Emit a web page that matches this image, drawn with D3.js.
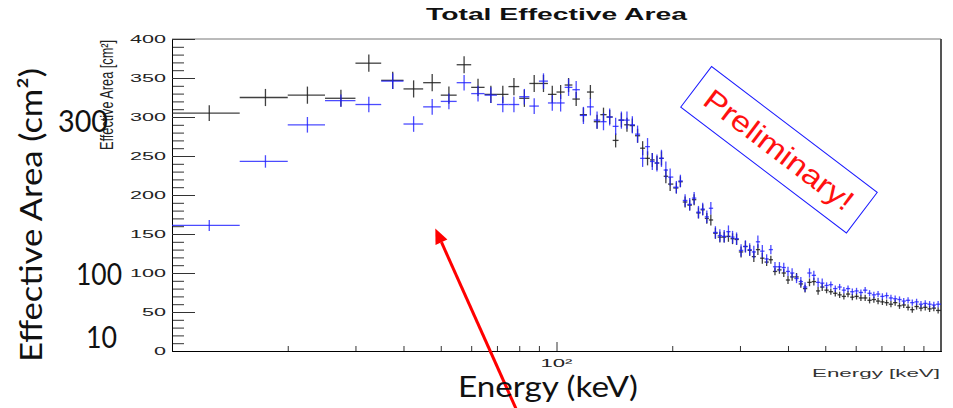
<!DOCTYPE html>
<html>
<head>
<meta charset="utf-8">
<script src="https://cdn.jsdelivr.net/npm/d3@7"></script>
<style>
  body { margin: 0; background: #fff; }
  svg { display: block; }
</style>
</head>
<body>
<svg id="chart" width="953" height="408"></svg>
<script>
'use strict';

// bin centres in keV (5 keV bins up to 200 keV, wider above)
var energy = [
  12.5, 17.5, 22.5, 27.5, 32.5, 37.5, 42.5, 47.5, 52.5, 57.5, 62.5, 67.5, 72.5, 77.5, 82.5, 87.5, 92.5, 97.5,
  102.5, 107.5, 112.5, 117.5, 122.5, 127.5, 132.5, 137.5, 142.5, 147.5, 152.5, 157.5, 162.5, 167.5, 172.5, 177.5, 182.5, 187.5, 192.5, 197.5,
  205, 210, 216, 222, 228, 234, 240, 246, 252, 259, 266, 273, 280, 287, 294, 302, 310, 318, 326, 334, 343,
  352, 361, 370, 380, 390, 400, 410, 421, 432, 443, 455, 467, 479, 491,
  504, 517, 531, 545, 559, 573, 588, 603, 619, 635, 652, 669, 686, 704, 722, 741, 760, 780, 800, 821, 842, 864, 887, 910, 934, 958, 983
];

var areaBlack = [
  305, 325, 328, 324, 369, 347, 336, 344, 328, 367, 338, 329, 329, 339, 324, 343, 343, 329,
  332, 341, 323, 303, 332, 294, 303, 300, 270, 296, 290, 289, 276, 260, 247, 245, 241, 247, 224, 214,
  209, 217, 191, 187, 194, 177, 181, 170, 168, 151, 146, 146, 147, 144, 143, 127, 134, 129, 121, 130, 119,
  114, 117, 102, 104, 100, 91, 95, 95, 86, 80, 88, 89, 77, 82,
  78, 76, 74, 72, 70, 73, 69, 70, 68, 68, 65, 66, 64, 63, 62, 60, 62, 58, 59, 56, 53, 57, 55, 56, 54, 55, 52
];
var errBlack = [
  10, 11, 11, 11, 11, 11, 11, 11, 11, 11, 11, 11, 11, 11, 11, 11, 11, 11,
  9, 9, 9, 9, 9, 9, 9, 9, 9, 9, 9, 9, 9, 9, 9, 9, 9, 9, 9, 9,
  7, 7, 7, 7, 7, 7, 7, 7, 7, 7, 7, 7, 7, 7, 7, 7, 7, 7, 7, 7, 7,
  5, 5, 5, 5, 5, 5, 5, 5, 5, 5, 5, 5, 5, 5,
  4, 4, 4, 4, 4, 4, 4, 4, 4, 4, 4, 4, 4, 4, 4, 4, 4, 4, 4, 4, 4, 4, 4, 4, 4, 4, 4
];

var areaBlue = [
  161, 243, 290, 321, 316, 346, 291, 313, 320, 344, 330, 328, 316, 316, 326, 314, 346, 318,
  318, 338, 335, 302, 313, 296, 294, 300, 288, 296, 296, 290, 278, 247, 262, 243, 241, 247, 232, 223,
  210, 218, 193, 188, 196, 178, 182, 172, 183, 152, 148, 147, 153, 146, 144, 129, 134, 130, 127, 140, 128,
  118, 130, 108, 108, 107, 102, 100, 93, 89, 82, 100, 97, 88, 87,
  84, 85, 80, 82, 78, 80, 76, 77, 75, 78, 74, 72, 73, 70, 71, 68, 67, 66, 64, 65, 62, 63, 60, 61, 60, 59, 60
];
var errBlue = [
  7, 8, 10, 8, 10, 10, 10, 10, 10, 10, 10, 10, 10, 10, 10, 10, 10, 10,
  11, 11, 11, 11, 11, 11, 11, 11, 11, 11, 11, 11, 11, 11, 11, 11, 11, 11, 11, 11,
  8, 8, 8, 8, 8, 8, 8, 8, 8, 8, 8, 8, 8, 8, 8, 8, 8, 8, 8, 8, 8,
  6, 6, 6, 6, 6, 6, 6, 6, 6, 6, 6, 6, 6, 6,
  4, 4, 4, 4, 4, 4, 4, 4, 4, 4, 4, 4, 4, 4, 4, 4, 4, 4, 4, 4, 4, 4, 4, 4, 4, 4, 4
];

var yMajorTicks = [0, 50, 100, 150, 200, 250, 300, 350, 400];
var yMinorTicks = d3.range(0, 401, 10);
var xMinorTicks = [20, 30, 40, 50, 60, 70, 80, 90, 200, 300, 400, 500, 600, 700, 800, 900];
var xMajorTicks = [100];

var rootFont = "'Liberation Sans', Arial, Helvetica, sans-serif";
var slideFont = "Lato, 'Open Sans', sans-serif";

var svg = d3.select('#chart');
var x = d3.scaleLog().domain([10, 1000]).range([172, 941]);
var y = d3.scaleLinear().domain([0, 400]).range([351, 39]);

// frame
svg.append('line').attr('x1', 172).attr('x2', 941).attr('y1', 39).attr('y2', 39)
  .attr('stroke', '#777').attr('stroke-width', 1);
svg.append('line').attr('x1', 941).attr('x2', 941).attr('y1', 39).attr('y2', 352)
  .attr('stroke', '#555').attr('stroke-width', 2);

// y axis
var gyMinor = svg.append('g').attr('transform', 'translate(172,0)')
  .call(d3.axisLeft(y).tickValues(yMinorTicks).tickSize(-12).tickFormat(''));
gyMinor.select('.domain').remove();
var gy = svg.append('g').attr('transform', 'translate(172,0)')
  .call(d3.axisLeft(y).tickValues(yMajorTicks).tickSize(-23).tickSizeOuter(0).tickPadding(6));
gy.selectAll('text')
  .attr('font-family', rootFont).attr('font-size', 11.5).attr('fill', '#222')
  .attr('textLength', function(d) { return String(d).length * 12; })
  .attr('lengthAdjust', 'spacingAndGlyphs');
svg.selectAll('.tick line').attr('stroke', '#333');

// x axis
var gxMinor = svg.append('g').attr('transform', 'translate(0,351)')
  .call(d3.axisBottom(x).tickValues(xMinorTicks).tickSize(-5).tickSizeOuter(0).tickFormat(''));
gxMinor.selectAll('.tick line').attr('stroke', '#333');
var gx = svg.append('g').attr('transform', 'translate(0,351)')
  .call(d3.axisBottom(x).tickValues(xMajorTicks).tickSize(-9).tickSizeOuter(0).tickFormat(''));
gx.selectAll('.tick line').attr('stroke', '#333');

svg.append('text')
  .attr('x', x(100)).attr('y', 367)
  .attr('text-anchor', 'middle')
  .attr('font-family', rootFont).attr('font-size', 11).attr('fill', '#222')
  .attr('textLength', 32).attr('lengthAdjust', 'spacingAndGlyphs')
  .text('10²');

// ROOT titles
svg.append('text')
  .attr('x', 426).attr('y', 20)
  .attr('font-family', rootFont).attr('font-size', 17).attr('font-weight', 'bold').attr('fill', '#111')
  .attr('textLength', 261).attr('lengthAdjust', 'spacingAndGlyphs')
  .text('Total Effective Area');

svg.append('text')
  .attr('x', 940).attr('y', 377)
  .attr('text-anchor', 'end')
  .attr('font-family', rootFont).attr('font-size', 11).attr('fill', '#333')
  .attr('textLength', 128).attr('lengthAdjust', 'spacingAndGlyphs')
  .text('Energy [keV]');

svg.append('text')
  .attr('transform', 'translate(113,150) rotate(-90)')
  .attr('font-family', rootFont).attr('font-size', 18).attr('fill', '#222')
  .attr('textLength', 110).attr('lengthAdjust', 'spacingAndGlyphs')
  .text('Effective Area [cm²]');

// data points with error bars
function drawSeries(values, errors, colour) {
  var n = energy.length;
  var pts = energy.map(function(e, i) {
    return {
      e: e,
      v: values[i],
      err: errors[i],
      lo: i === 0 ? 10 : (energy[i - 1] + e) / 2,
      hi: i === n - 1 ? 1000 : (e + energy[i + 1]) / 2
    };
  });
  var g = svg.append('g').attr('stroke', colour).attr('stroke-width', 1.3);
  g.selectAll('line.h').data(pts).enter().append('line')
    .attr('class', 'h')
    .attr('x1', function(d) { return x(d.lo); })
    .attr('x2', function(d) { return x(d.hi); })
    .attr('y1', function(d) { return y(d.v); })
    .attr('y2', function(d) { return y(d.v); });
  g.selectAll('line.v').data(pts).enter().append('line')
    .attr('class', 'v')
    .attr('x1', function(d) { return x(d.e); })
    .attr('x2', function(d) { return x(d.e); })
    .attr('y1', function(d) { return y(d.v - d.err); })
    .attr('y2', function(d) { return y(d.v + d.err); });
}
drawSeries(areaBlack, errBlack, 'rgba(30,30,30,0.85)');
drawSeries(areaBlue, errBlue, 'rgba(30,30,255,0.8)');

// "Preliminary!" stamp
var stamp = svg.append('g')
  .attr('transform', 'translate(' + x(379) + ',' + y(258) + ') rotate(37.2)');
stamp.append('rect')
  .attr('x', -104).attr('y', -25.5).attr('width', 208).attr('height', 51)
  .attr('fill', 'none').attr('stroke', '#1a1aff').attr('stroke-width', 1);
stamp.append('text')
  .attr('x', 0).attr('y', 0).attr('dy', '0.35em')
  .attr('text-anchor', 'middle')
  .attr('font-family', rootFont).attr('font-size', 29).attr('fill', '#ff1010')
  .attr('textLength', 180).attr('lengthAdjust', 'spacingAndGlyphs')
  .text('Preliminary!');

// red arrow
var tail = [x(79.8), y(-82)];
var tip = [x(48.4), y(157)];
var dx = tip[0] - tail[0], dy = tip[1] - tail[1];
var len = Math.sqrt(dx * dx + dy * dy);
var ux = dx / len, uy = dy / len;
var base = [tip[0] - 15 * ux, tip[1] - 15 * uy];
svg.append('line')
  .attr('x1', tail[0]).attr('y1', tail[1]).attr('x2', base[0]).attr('y2', base[1])
  .attr('stroke', '#ff0000').attr('stroke-width', 3);
svg.append('path')
  .attr('d', 'M' + tip[0] + ',' + tip[1] +
    'L' + (base[0] - 6.5 * uy) + ',' + (base[1] + 6.5 * ux) +
    'L' + (base[0] + 6.5 * uy) + ',' + (base[1] - 6.5 * ux) + 'Z')
  .attr('fill', '#ff0000');

// slide overlay labels
svg.append('text')
  .attr('transform', 'translate(42,362) rotate(-90)')
  .attr('font-family', slideFont).attr('font-size', 31).attr('fill', '#111')
  .attr('textLength', 294).attr('lengthAdjust', 'spacingAndGlyphs')
  .text('Effective Area (cm²)');
svg.append('text').attr('x', 58).attr('y', 132)
  .attr('font-family', slideFont).attr('font-size', 30).attr('fill', '#111')
  .attr('textLength', 50).attr('lengthAdjust', 'spacingAndGlyphs').text('300');
svg.append('text').attr('x', 76).attr('y', 285)
  .attr('font-family', slideFont).attr('font-size', 30).attr('fill', '#111')
  .attr('textLength', 46).attr('lengthAdjust', 'spacingAndGlyphs').text('100');
svg.append('text').attr('x', 86).attr('y', 348)
  .attr('font-family', slideFont).attr('font-size', 30).attr('fill', '#111')
  .attr('textLength', 31).attr('lengthAdjust', 'spacingAndGlyphs').text('10');
svg.append('text').attr('x', 458).attr('y', 397)
  .attr('font-family', slideFont).attr('font-size', 29).attr('fill', '#111')
  .attr('textLength', 180).attr('lengthAdjust', 'spacingAndGlyphs').text('Energy (keV)');
</script>
</body>
</html>
